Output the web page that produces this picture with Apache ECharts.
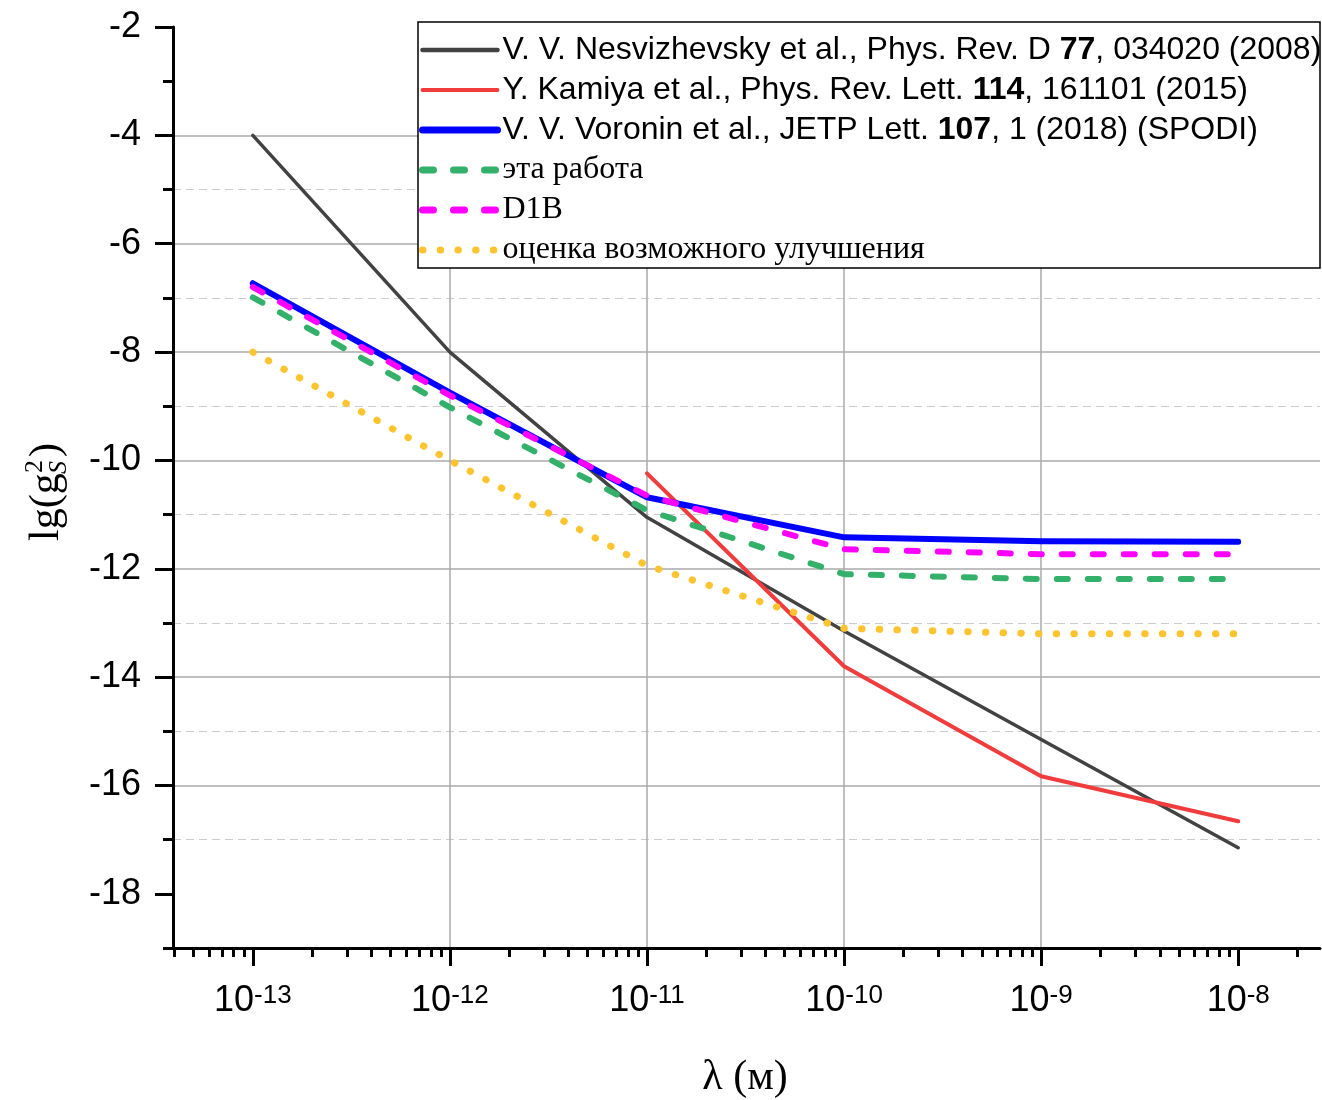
<!DOCTYPE html>
<html>
<head>
<meta charset="utf-8">
<script src="https://cdn.jsdelivr.net/npm/echarts@6/dist/echarts.min.js"></script>
<style>
  html, body { margin: 0; padding: 0; background: #fff; }
  #chart { width: 1322px; height: 1100px; }
</style>
</head>
<body>
<div id="chart"></div>
<script>
// lg of the interaction range, lambda in metres
const lgLambda = [-13, -12, -11, -10, -9, -8];

// lg(g_S^2) limits for each data set
const nesvizhevsky = [-4.0, -8.0, -11.05, -13.15, -15.15, -17.15];
const kamiyaLambda = [-11, -10, -9, -8];
const kamiya = [-10.24, -13.8, -15.83, -16.66];
const voronin = [-6.73, -8.75, -10.68, -11.42, -11.49, -11.5];
const thisWork = [-6.99, -9.02, -10.92, -12.1, -12.19, -12.19];
const d1b = [-6.8, -8.8, -10.65, -11.64, -11.73, -11.73];
const improvement = [-8.0, -10.0, -11.94, -13.1, -13.2, -13.2];

// axis ticks
const xMajorTicks = [-13, -12, -11, -10, -9, -8];
const yMajorTicks = [-18, -16, -14, -12, -10, -8, -6, -4, -2];
const yMinorTicks = [-19, -17, -15, -13, -11, -9, -7, -5, -3];

// legend entries (plain names and the rich-text versions with bold volume numbers)
const seriesNames = [
  'V. V. Nesvizhevsky et al., Phys. Rev. D 77, 034020 (2008)',
  'Y. Kamiya et al., Phys. Rev. Lett. 114, 161101 (2015)',
  'V. V. Voronin et al., JETP Lett. 107, 1 (2018) (SPODI)',
  'эта работа',
  'D1B',
  'оценка возможного улучшения'
];
const legendRich = [
  'V. V. Nesvizhevsky et al., Phys. Rev. D {b|77}, 034020 (2008)',
  'Y. Kamiya et al., Phys. Rev. Lett. {b|114}, 161101 (2015)',
  'V. V. Voronin et al., JETP Lett. {b|107}, 1 (2018) (SPODI)',
  'эта работа',
  'D1B',
  'оценка возможного улучшения'
];

const X_MIN = -13.405, X_MAX = -7.585;
// minor ticks at 2..9 × 10^n inside the axis range
const xMinorTicks = [];
for (let n = -14; n <= -8; n++) {
  for (let k = 2; k <= 9; k++) {
    const v = n + Math.log10(k);
    if (v >= X_MIN && v <= X_MAX) xMinorTicks.push(v);
  }
}

const pairs = (xs, ys) => xs.map((x, i) => [x, ys[i]]);

const SANS = 'Liberation Sans, Arial, sans-serif';
const SERIF = 'Liberation Serif, Times New Roman, serif';

// line styles shared by the series and their legend samples
const styles = [
  { color: '#424242', width: 3.5, type: 'solid', cap: 'round' },
  { color: '#f03c3c', width: 4, type: 'solid', cap: 'round' },
  { color: '#0000ff', width: 6, type: 'solid', cap: 'round', join: 'round' },
  { color: '#33b06a', width: 6, type: [11, 20], cap: 'round' },
  { color: '#ff00ff', width: 6, type: [11, 20], cap: 'round' },
  { color: '#fdc42f', width: 7, type: [0.5, 17.2], cap: 'round' }
];
const legendWidths = [4.5, 4, 7, 7, 7, 7];

const chart = echarts.init(document.getElementById('chart'), null, { renderer: 'canvas' });

const option = {
  animation: false,
  backgroundColor: '#fff',
  grid: { left: 173, right: 2, top: 27, bottom: 152, containLabel: false },
  xAxis: [
    {
      type: 'value', min: X_MIN, max: X_MAX,
      axisLine: { show: true, onZero: false, lineStyle: { color: '#000', width: 3 } },
      axisTick: { show: true, inside: false, length: 18, customValues: xMajorTicks,
                  lineStyle: { color: '#000', width: 3 } },
      axisLabel: {
        show: true, margin: 35, customValues: xMajorTicks,
        formatter: v => '{b|10}{s|' + v + '}',
        rich: {
          b: { fontFamily: SANS, fontSize: 36, color: '#000', lineHeight: 36 },
          s: { fontFamily: SANS, fontSize: 26, color: '#000', lineHeight: 20, verticalAlign: 'top' }
        }
      },
      splitLine: { show: true, showMinLine: false, showMaxLine: false,
                   lineStyle: { color: '#aaa', width: 1.5, type: 'solid' } }
    },
    {
      type: 'value', min: X_MIN, max: X_MAX, position: 'bottom',
      axisLine: { show: false, onZero: false },
      axisTick: { show: true, inside: false, length: 9, customValues: xMinorTicks,
                  lineStyle: { color: '#000', width: 3 } },
      axisLabel: { show: false },
      splitLine: { show: false }
    }
  ],
  yAxis: [
    {
      type: 'value', min: -19, max: -2,
      axisLine: { show: true, onZero: false, lineStyle: { color: '#000', width: 3 } },
      axisTick: { show: true, inside: false, length: 18, customValues: yMajorTicks,
                  lineStyle: { color: '#000', width: 3 } },
      axisLabel: { show: true, margin: 32, customValues: yMajorTicks,
                   fontFamily: SANS, fontSize: 36, color: '#000' },
      splitLine: { show: true, showMinLine: false, showMaxLine: false,
                   lineStyle: { color: '#aaa', width: 1.5, type: 'solid' } }
    },
    {
      type: 'value', min: -19, max: -2, position: 'left',
      axisLine: { show: false, onZero: false },
      axisTick: { show: true, inside: false, length: 10, customValues: yMinorTicks,
                  lineStyle: { color: '#000', width: 3 } },
      axisLabel: { show: false },
      splitLine: { show: true, showMinLine: false, showMaxLine: false,
                   lineStyle: { color: '#ccc', width: 1.2, type: [8, 5] } }
    }
  ],
  legend: {
    orient: 'vertical', left: 419, top: 30, padding: 0, itemGap: 0,
    itemWidth: 75, itemHeight: 14, z: 20,
    selectedMode: false,
    itemStyle: { opacity: 0 },
    data: seriesNames.map((name, i) => ({
      name,
      itemStyle: { opacity: 0 },
      lineStyle: { color: styles[i].color, width: legendWidths[i], type: styles[i].type,
                   cap: styles[i].cap, opacity: 1 },
      textStyle: i < 3
        ? { fontFamily: SANS, fontSize: 32, color: '#000', lineHeight: 40 }
        : { fontFamily: SERIF, fontSize: 32, color: '#000', lineHeight: 40 }
    })),
    formatter: name => legendRich[seriesNames.indexOf(name)],
    textStyle: {
      fontFamily: SANS, fontSize: 32, color: '#000', lineHeight: 40,
      rich: { b: { fontFamily: SANS, fontSize: 32, fontWeight: 'bold', color: '#000', lineHeight: 40 } }
    }
  },
  graphic: [
    {
      type: 'rect', z: 10,
      shape: { x: 418, y: 22, width: 902, height: 246 },
      style: { fill: '#fff', stroke: '#000', lineWidth: 1.5 }
    },
    {
      type: 'text', z: 10, x: 745, y: 1078,
      style: { text: 'λ (м)', font: '42px ' + SERIF, fill: '#000', align: 'center', verticalAlign: 'middle' }
    },
    {
      type: 'group', x: 47, y: 487, rotation: Math.PI / 2, z: 10,
      children: [
        { type: 'text', x: -54, y: 0,
          style: { text: 'lg(g', font: '42px ' + SERIF, fill: '#000', align: 'left', verticalAlign: 'middle' } },
        { type: 'text', x: 14, y: -12,
          style: { text: '2', font: '26px ' + SERIF, fill: '#000', align: 'left', verticalAlign: 'middle' } },
        { type: 'text', x: 13, y: 12,
          style: { text: 'S', font: 'italic 26px ' + SERIF, fill: '#000', align: 'left', verticalAlign: 'middle' } },
        { type: 'text', x: 30, y: 0,
          style: { text: ')', font: '42px ' + SERIF, fill: '#000', align: 'left', verticalAlign: 'middle' } }
      ]
    }
  ],
  series: [
    { data: pairs(lgLambda, nesvizhevsky) },
    { data: pairs(kamiyaLambda, kamiya) },
    { data: pairs(lgLambda, voronin) },
    { data: pairs(lgLambda, thisWork) },
    { data: pairs(lgLambda, d1b) },
    { data: pairs(lgLambda, improvement) }
  ].map((s, i) => ({
    name: seriesNames[i], type: 'line', symbol: 'none', z: 2,
    data: s.data,
    lineStyle: styles[i],
    itemStyle: { color: styles[i].color }
  }))
};

chart.setOption(option);
</script>
</body>
</html>
